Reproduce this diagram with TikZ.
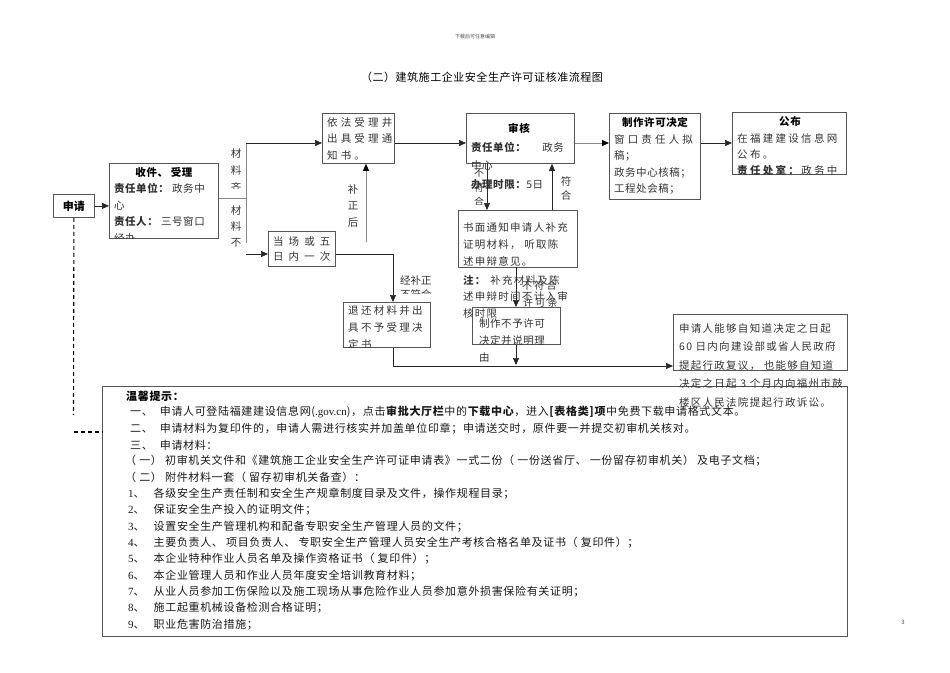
\documentclass[tikz,border=0pt]{standalone}
\usepackage{fontspec}
\setmainfont{Noto Sans CJK SC}
\newfontfamily\lsa[LetterSpace=5]{Noto Sans CJK SC}
\newfontfamily\lsb[LetterSpace=12]{Noto Sans CJK SC}
\newfontfamily\lsc[LetterSpace=22]{Noto Sans CJK SC}
\newfontfamily\lsd[LetterSpace=30]{Noto Sans CJK SC}
\newfontfamily\lse[LetterSpace=48]{Noto Sans CJK SC}
\newfontfamily\lst[LetterSpace=6]{Noto Sans CJK SC}
\newfontfamily\serifx{Liberation Serif}
\usetikzlibrary{arrows.meta}
\definecolor{bordc}{HTML}{555555}
\definecolor{linec}{HTML}{8A8A8A}
\definecolor{txtc}{HTML}{333333}
\tikzset{
  boxn/.style={draw=bordc, line width=0.8pt, anchor=north west, inner sep=0pt},
  conn/.style={draw=black!85, line width=0.7pt},
  gconn/.style={draw=linec, line width=1pt},
  arr/.style={conn, -{Triangle[length=7pt,width=6pt]}},
  garr/.style={gconn, -{Triangle[length=7pt,width=6pt,fill=black,color=black]}},
  dsh/.style={draw=black, line width=1.1pt, dash pattern=on 4pt off 3pt},
  ml/.style={anchor=north west, inner sep=0pt, align=left, text=txtc},
  stk/.style={anchor=north, inner sep=0pt, align=center, text=txtc},
  ttl/.style={inner sep=0pt, font=\lsa\bfseries\fontsize{10.5}{12}\selectfont},
  tip/.style={anchor=west, inner sep=0pt, text=black!90, font=\lst\fontsize{11}{13}\selectfont},
  bt/.style={font=\lsb\fontsize{10.5}{16.7}\selectfont}
}
\begin{document}
\begin{tikzpicture}[x=1pt,y=-1pt]
\useasboundingbox (0,0) rectangle (950,672);

% header and title
\node[font=\fontsize{5}{6}\selectfont, text=black!70] (hdr) at (475,37) {下载后可任意编辑};
\node[font=\lsa\fontsize{11}{13}\selectfont, text=black] (title) at (482,77) {（二）建筑施工企业安全生产许可证核准流程图};

% boxes
\node[boxn, minimum width=41pt, minimum height=23pt] (sq) at (53,194) {};
\node[boxn, minimum width=109pt, minimum height=75pt] (sj) at (109,163) {};
\node[boxn, minimum width=72pt, minimum height=50pt] (yf) at (322,113) {};
\node[boxn, minimum width=67pt, minimum height=35pt] (dc) at (268,231) {};
\node[boxn, minimum width=87pt, minimum height=45pt] (th) at (343,302) {};
\node[boxn, minimum width=108pt, minimum height=50pt] (sh) at (466,113) {};
\node[boxn, minimum width=119pt, minimum height=57pt] (sm) at (458,210) {};
\node[boxn, minimum width=88pt, minimum height=37pt] (bz) at (472,307) {};
\node[boxn, minimum width=91pt, minimum height=86pt] (zz) at (609,113) {};
\node[boxn, minimum width=114pt, minimum height=62pt] (gb) at (732,112) {};
\node[boxn, minimum width=174pt, minimum height=56pt] (fy) at (673,314) {};
\node[boxn, minimum width=745pt, minimum height=250pt] (tips) at (102,386) {};

% box texts
\node[ttl, font=\bfseries\fontsize{11}{12}\selectfont, text=black] (sqt) at (sq.center) {申请};
\node[ttl, text=black] (sjt) at (164,172) {收件、 受理};
\begin{scope}
\clip (109,163) rectangle (218,238);
\node[ml, font=\lsa\fontsize{10.5}{16.7}\selectfont] (sjb) at (114,183) {\textbf{责任单位：} 政务中\\心\\\textbf{责任人：} 三号窗口\\经办};
\end{scope}
\node[ml, font=\lsd\fontsize{10.5}{16.5}\selectfont] (yft) at (327,117) {依法受理井\\出具受理通\\知书。};
\node[ml, font=\lse\fontsize{10.5}{15}\selectfont] (dct) at (273,236) {当场或五\\日内一次};
\begin{scope}
\clip (343,302) rectangle (430,347);
\node[ml, font=\lsc\fontsize{10.5}{17}\selectfont] (tht) at (348,305) {退还材料并出\\具不予受理决\\定书};
\end{scope}
\node[ttl, text=black] (sht) at (519,128) {审核};
\node[ml, font=\lsa\fontsize{10.5}{18.5}\selectfont] (shb) at (471,142) {\textbf{责任单位：}\hspace{16pt}政务\\中心\\\textbf{办理时限：}5日};
\node[ml, bt, font=\lsb\fontsize{10.5}{17}\selectfont] (smt) at (463,222) {书面通知申请人补充\\证明材料， 听取陈\\述申辩意见。};
\node[ml, font=\lsb\fontsize{10.5}{16.5}\selectfont] (note) at (463,275) {\textbf{注：} 补充材料及陈\\述申辩时间不计入审\\核时限};
\node[ml, font=\lsa\fontsize{10.5}{17}\selectfont] (bzt) at (479,318) {制作不予许可\\决定并说明理\\由};
\node[ttl, text=black] (zzt) at (655,122) {制作许可决定};
\node[ml, font=\lsa\fontsize{10.5}{16.5}\selectfont] (zzb) at (614,134) {{\lsd 窗口责任人拟}\\稿；\\政务中心核稿；\\工程处会稿；};
\node[ttl, text=black] (gbt) at (790,122) {公布};
\begin{scope}
\clip (732,112) rectangle (846,174);
\node[ml, font=\lsc\fontsize{10.5}{16.3}\selectfont] (gbb) at (737,133) {在福建建设信息网\\公布。\\\textbf{责任处室：}政务中};
\end{scope}
\node[ml, font=\lsb\fontsize{10.5}{18.5}\selectfont] (fyt) at (679,323) {申请人能够自知道决定之日起\\60 日内向建设部或省人民政府\\提起行政复议， 也能够自知道\\决定之日起 3 个月内向福州市鼓\\楼区人民法院提起行政诉讼。};

% connector labels
\begin{scope}
\clip (225,143) rectangle (245,188);
\node[stk, font=\fontsize{10.5}{17}\selectfont] (lq) at (236,148) {材\\料\\齐};
\end{scope}
\node[stk, font=\fontsize{10.5}{16}\selectfont] (lbq) at (236,205) {材\\料\\不};
\node[stk, font=\fontsize{10.5}{16.5}\selectfont] (lbzh) at (353,184) {补\\正\\后};
\begin{scope}
\clip (395,268) rectangle (445,293);
\node[ml, font=\fontsize{10.5}{14}\selectfont] (ljb) at (400,275) {经补正\\不符合};
\end{scope}
\begin{scope}
\clip (468,167) rectangle (490,204);
\node[stk, font=\fontsize{10}{14.5}\selectfont] (lbf) at (479,169) {不\\符\\合};
\end{scope}
\node[stk, font=\fontsize{10.5}{14}\selectfont] (lfh) at (566,176) {符\\合};
\node[ml, font=\fontsize{10}{17}\selectfont] (lxk1) at (522,281) {不 符 合};
\node[ml, font=\fontsize{10}{17}\selectfont] (lxk2) at (523,298) {许 可 条};

% connectors
\coordinate (ja) at (246,143);
\coordinate (jm) at (246,198);
\coordinate (jb) at (246,243);
\coordinate (jc) at (246,254);
\draw[gconn] (sj.east |- jm) -- (jm);
\draw[gconn] (ja) -- (jb);
\draw[arr] (ja) -- (yf.west |- ja);
\draw[arr] (jc) -- (dc.west |- jc);
\draw[arr] (sq.east) -- (sj.west |- sq.east);
\draw[arr] (yf.east |- ja) -- (sh.west |- ja);
\coordinate (bzb) at (366,242);
\draw[garr] (bzb) -- (bzb |- yf.south);
\coordinate (dcr) at (393,254);
\draw[arr] (dc.east |- dcr) -- (dcr) -- (dcr |- th.north);
\coordinate (fyl) at (393,366);
\draw[arr] (th.south -| fyl) -- (fyl) -- (fy.west |- fyl);
\draw[garr] (sh.east |- ja) -- (zz.west |- ja);
\draw[arr] (zz.east |- ja) -- (gb.west |- ja);
\coordinate (bf) at (487,163);
\draw[arr] (bf) -- (bf |- sm.north);
\coordinate (fh) at (552,210);
\draw[arr] (fh) -- (fh |- sh.south);
\coordinate (smb) at (516,267);
\draw[arr] (smb) -- (smb |- bz.north);
\coordinate (bzo) at (516,365);
\draw[arr] (bz.south -| bzo) -- (bzo);
\coordinate (dv) at (73.5,415);
\coordinate (dh) at (73.5,432);
\draw[dsh] (sq.south) -- (dv);
\draw[dsh] (dh) -- (tips.west |- dh);

% tips text
\node[tip, text=black] (tp0) at (126,396) {\textbf{温馨提示：}};
\node[tip] (tp1) at (130,412) {一、\hspace{7pt}申请人可登陆福建建设信息网({\serifx .gov.cn})，点击\textbf{审批大厅栏}中的\textbf{下载中心}，进入\textbf{[表格类]项}中免费下载申请格式文本。};
\node[tip] (tp2) at (130,428.5) {二、\hspace{7pt}申请材料为复印件的，申请人需进行核实并加盖单位印章；申请送交时，原件要一并提交初审机关核对。};
\node[tip] (tp3) at (130,445) {三、\hspace{7pt}申请材料：};
\node[tip] (tp4) at (125,461) {（ 一） 初审机关文件和《建筑施工企业安全生产许可证申请表》一式二份（ 一份送省厅、 一份留存初审机关） 及电子文档；};
\node[tip] (tp5) at (125,477.5) {（ 二） 附件材料一套（ 留存初审机关备查）：};
\node[tip] (tp6) at (128,494) {{\serifx 1}、\hspace{9pt}各级安全生产责任制和安全生产规章制度目录及文件，操作规程目录；};
\node[tip] (tp7) at (128,510) {{\serifx 2}、\hspace{9pt}保证安全生产投入的证明文件；};
\node[tip] (tp8) at (128,526.5) {{\serifx 3}、\hspace{9pt}设置安全生产管理机构和配备专职安全生产管理人员的文件；};
\node[tip] (tp9) at (128,543) {{\serifx 4}、\hspace{9pt}主要负责人、 项目负责人、 专职安全生产管理人员安全生产考核合格名单及证书（ 复印件）；};
\node[tip] (tp10) at (128,559) {{\serifx 5}、\hspace{9pt}本企业特种作业人员名单及操作资格证书（ 复印件）；};
\node[tip] (tp11) at (128,575.5) {{\serifx 6}、\hspace{9pt}本企业管理人员和作业人员年度安全培训教育材料；};
\node[tip] (tp12) at (128,592) {{\serifx 7}、\hspace{9pt}从业人员参加工伤保险以及施工现场从事危险作业人员参加意外损害保险有关证明；};
\node[tip] (tp13) at (128,608) {{\serifx 8}、\hspace{9pt}施工起重机械设备检测合格证明；};
\node[tip] (tp14) at (128,624.5) {{\serifx 9}、\hspace{9pt}职业危害防治措施；};

\node[font=\fontsize{6}{7}\selectfont, text=black!70] (pgn) at (903,622) {3};
\end{tikzpicture}
\end{document}
